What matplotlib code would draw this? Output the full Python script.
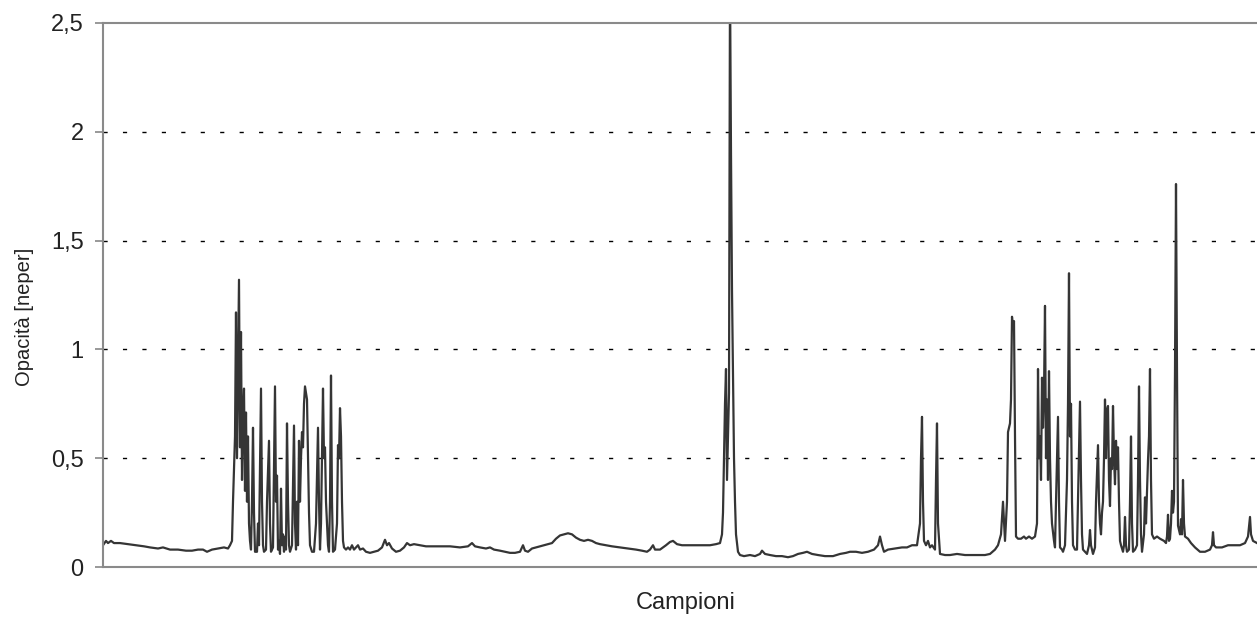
import numpy as np
import matplotlib.pyplot as plt
from matplotlib.ticker import FixedLocator

# =========================
# DATA
# =========================
# sample number / opacity [neper], split by stretch of the record

# flat start
camp_inizio = [103, 106, 108, 111, 114, 120, 128, 136, 144, 150, 158, 163, 170, 178, 186,
               192, 198, 203, 207, 212, 218, 224, 228, 230]
opac_inizio = [0.10, 0.12, 0.11, 0.12, 0.11, 0.11, 0.105, 0.10, 0.095, 0.09, 0.085, 0.09,
               0.08, 0.08, 0.075, 0.075, 0.08, 0.08, 0.07, 0.08, 0.085, 0.09, 0.085, 0.10]

# first burst
camp_burst1 = [232, 233, 234, 235, 236, 237, 238, 239, 240, 241, 242, 243, 244, 245, 246,
               247, 248, 249, 250, 251, 252, 253, 254, 255, 257, 258, 259, 261, 262, 263,
               264, 266, 267, 269, 270, 271, 273, 275, 276, 277, 278, 279, 280, 281, 282,
               283, 284, 285, 286, 287, 288, 289, 290, 292, 294, 295, 296, 297, 298, 299,
               300, 301, 302, 303, 304, 305, 306, 307, 308, 309, 310, 312, 314, 316, 318,
               319, 320, 321, 323, 324, 325, 326, 327, 328, 329, 330, 331, 332, 333, 335,
               337, 338, 339, 340, 341, 342, 343, 344]
opac_burst1 = [0.12, 0.3, 0.45, 0.6, 1.17, 0.5, 0.9, 1.32, 0.55, 1.08, 0.4, 0.7, 0.82, 0.35,
               0.71, 0.3, 0.6, 0.2, 0.12, 0.08, 0.3, 0.64, 0.25, 0.07, 0.07, 0.2, 0.1, 0.82,
               0.3, 0.1, 0.07, 0.08, 0.3, 0.58, 0.2, 0.07, 0.09, 0.83, 0.3, 0.42, 0.08, 0.12,
               0.06, 0.36, 0.1, 0.15, 0.07, 0.14, 0.08, 0.66, 0.3, 0.1, 0.07, 0.1, 0.65, 0.2,
               0.08, 0.3, 0.1, 0.58, 0.3, 0.5, 0.62, 0.55, 0.75, 0.83, 0.8, 0.77, 0.5, 0.25,
               0.1, 0.07, 0.07, 0.2, 0.64, 0.3, 0.08, 0.2, 0.82, 0.5, 0.55, 0.3, 0.2, 0.1,
               0.07, 0.3, 0.88, 0.3, 0.07, 0.08, 0.2, 0.56, 0.5, 0.73, 0.6, 0.3, 0.12, 0.09]

# quiet middle stretch
camp_medio = [346, 348, 350, 352, 354, 356, 358, 360, 363, 366, 370, 374, 378, 382, 385,
              387, 389, 392, 396, 400, 404, 407, 410, 414, 420, 426, 432, 440, 450, 460,
              468, 472, 475, 480, 486, 490, 494, 500, 505, 510, 515, 520, 523, 525, 528,
              532, 536, 540, 544, 548, 552, 556, 560, 564, 568, 572, 576, 580, 584, 588,
              592, 596, 600, 606, 612, 620, 628, 636, 642, 647, 650, 653, 655, 660, 666,
              670, 673, 677, 682, 690, 700, 710, 716, 720]
opac_medio = [0.08, 0.09, 0.08, 0.1, 0.08, 0.09, 0.1, 0.08, 0.085, 0.07, 0.065, 0.07, 0.075,
              0.09, 0.125, 0.1, 0.11, 0.085, 0.07, 0.075, 0.09, 0.11, 0.1, 0.105, 0.1, 0.095,
              0.095, 0.095, 0.095, 0.09, 0.095, 0.11, 0.095, 0.09, 0.085, 0.09, 0.08, 0.075,
              0.07, 0.065, 0.065, 0.07, 0.1, 0.075, 0.07, 0.085, 0.09, 0.095, 0.10, 0.105,
              0.11, 0.13, 0.145, 0.15, 0.155, 0.15, 0.135, 0.125, 0.12, 0.125, 0.12, 0.11,
              0.105, 0.1, 0.095, 0.09, 0.085, 0.08, 0.075, 0.07, 0.08, 0.1, 0.08, 0.08, 0.1,
              0.115, 0.12, 0.105, 0.1, 0.1, 0.1, 0.1, 0.105, 0.11]

# central spike (goes off scale)
camp_picco = [722, 723, 724, 725, 726, 727, 728, 729, 730, 731, 732, 733, 734, 735, 736,
              738, 740]
opac_picco = [0.15, 0.25, 0.5, 0.75, 0.91, 0.4, 0.6, 0.8, 2.7, 1.9, 1.27, 0.9, 0.5, 0.3,
              0.15, 0.07, 0.055]

# low stretch with two isolated peaks
camp_basso = [744, 750, 755, 760, 762, 765, 770, 776, 782, 788, 793, 798, 803, 807, 812,
              818, 825, 833, 840, 846, 850, 856, 862, 868, 874, 878, 880, 882, 884, 888,
              895, 902, 907, 912, 917, 920, 921, 922, 923, 924, 926, 928, 930, 932, 935,
              936, 937, 938, 940, 945, 950, 957, 965, 975, 985, 990, 995, 998, 1001, 1003,
              1005, 1007, 1008, 1010, 1011, 1012, 1013, 1014, 1015, 1016, 1018, 1021, 1024,
              1026, 1029, 1032, 1035, 1037]
opac_basso = [0.05, 0.055, 0.05, 0.06, 0.075, 0.06, 0.055, 0.05, 0.05, 0.045, 0.05, 0.06,
              0.065, 0.07, 0.06, 0.055, 0.05, 0.05, 0.06, 0.065, 0.07, 0.07, 0.065, 0.07,
              0.08, 0.1, 0.14, 0.1, 0.07, 0.08, 0.085, 0.09, 0.09, 0.1, 0.1, 0.2, 0.5, 0.69,
              0.3, 0.12, 0.1, 0.12, 0.09, 0.1, 0.08, 0.4, 0.66, 0.2, 0.06, 0.055, 0.055,
              0.06, 0.055, 0.055, 0.055, 0.06, 0.08, 0.1, 0.15, 0.3, 0.12, 0.3, 0.62, 0.66,
              0.77, 1.15, 1.1, 1.13, 0.6, 0.14, 0.13, 0.13, 0.14, 0.13, 0.14, 0.13, 0.14, 0.2]

# last burst
camp_burst2 = [1038, 1039, 1040, 1041, 1042, 1043, 1044, 1045, 1046, 1047, 1048, 1049, 1050,
               1051, 1052, 1054, 1055, 1056, 1058, 1059, 1060, 1062, 1063, 1065, 1067, 1068,
               1069, 1070, 1071, 1072, 1073, 1075, 1077, 1078, 1080, 1081, 1082, 1083, 1085,
               1087, 1089, 1090, 1091, 1093, 1095, 1096, 1098, 1099, 1100, 1101, 1102, 1103,
               1104, 1105, 1106, 1107, 1108, 1109, 1110, 1111, 1112, 1113, 1114, 1115, 1116,
               1117, 1118, 1119, 1120, 1121, 1123, 1124, 1125, 1126, 1127, 1129, 1130, 1131,
               1132, 1133, 1135, 1137, 1138, 1139, 1140, 1141, 1142, 1144, 1145, 1146, 1147,
               1148, 1149, 1150, 1151, 1152]
opac_burst2 = [0.91, 0.5, 0.6, 0.4, 0.87, 0.64, 0.8, 1.2, 0.5, 0.77, 0.4, 0.9, 0.5, 0.3, 0.2,
               0.12, 0.09, 0.3, 0.69, 0.3, 0.09, 0.08, 0.07, 0.1, 0.4, 0.75, 1.35, 0.6, 0.75,
               0.3, 0.1, 0.08, 0.08, 0.3, 0.76, 0.4, 0.15, 0.08, 0.07, 0.06, 0.1, 0.17, 0.1,
               0.06, 0.09, 0.3, 0.56, 0.3, 0.2, 0.15, 0.25, 0.3, 0.5, 0.77, 0.5, 0.72, 0.74,
               0.4, 0.28, 0.5, 0.45, 0.74, 0.5, 0.38, 0.58, 0.45, 0.55, 0.3, 0.12, 0.1, 0.07,
               0.1, 0.23, 0.1, 0.07, 0.08, 0.3, 0.6, 0.2, 0.07, 0.08, 0.1, 0.4, 0.83, 0.4,
               0.15, 0.07, 0.15, 0.32, 0.2, 0.35, 0.49, 0.6, 0.91, 0.4, 0.15]

# tail with the last high peak
camp_coda = [1154, 1157, 1160, 1164, 1166, 1167, 1168, 1169, 1170, 1171, 1172, 1173, 1174,
             1175, 1176, 1177, 1178, 1180, 1181, 1182, 1183, 1184, 1185, 1188, 1191, 1195,
             1200, 1205, 1210, 1212, 1213, 1214, 1216, 1222, 1228, 1234, 1240, 1245, 1248,
             1250, 1251, 1253, 1257]
opac_coda = [0.13, 0.14, 0.13, 0.12, 0.11, 0.14, 0.24, 0.12, 0.13, 0.2, 0.35, 0.25, 0.3,
             0.9, 1.76, 0.9, 0.19, 0.15, 0.22, 0.15, 0.4, 0.2, 0.14, 0.13, 0.11, 0.09, 0.07,
             0.07, 0.08, 0.1, 0.16, 0.1, 0.09, 0.09, 0.1, 0.1, 0.1, 0.11, 0.14, 0.23, 0.15,
             0.12, 0.11]

y_ticks = [0, 0.5, 1, 1.5, 2, 2.5]
y_tick_labels = ["0", "0,5", "1", "1,5", "2", "2,5"]

campioni = np.concatenate([camp_inizio, camp_burst1, camp_medio, camp_picco,
                           camp_basso, camp_burst2, camp_coda])
opacita = np.concatenate([opac_inizio, opac_burst1, opac_medio, opac_picco,
                          opac_basso, opac_burst2, opac_coda])

# =========================
# PLOT
# =========================
plt.rcParams['font.family'] = ['Liberation Sans', 'DejaVu Sans']

fig = plt.figure(figsize=(12.57, 6.23), dpi=100)
ax = fig.add_axes([103 / 1257, 56 / 623, 1154 / 1257, 544 / 623])

ax.plot(campioni, opacita, color="#353535", linewidth=1.6)

ax.set_xlim(campioni[0], campioni[-1])
ax.set_ylim(0, 2.5)

# dotted horizontal grid
for yv in y_ticks[1:-1]:
    ax.axhline(yv, color="black", linewidth=1.0, linestyle=(0, (3, 11)), zorder=0)

ax.yaxis.set_major_locator(FixedLocator(y_ticks))
ax.set_yticklabels(y_tick_labels, fontsize=17, color="#222222")
ax.tick_params(axis="y", direction="out", length=6, width=1.2, color="#888888", pad=8)
ax.set_xticks([])

for side in ["left", "top", "bottom"]:
    ax.spines[side].set_color("#8a8a8a")
    ax.spines[side].set_linewidth(1.5)
ax.spines["right"].set_visible(False)

ax.set_ylabel("Opacità [neper]", fontsize=14.5, color="#222222", labelpad=12)
ax.set_xlabel("Campioni", fontsize=17, color="#222222", labelpad=18)
ax.yaxis.label.set_y(0.46)
ax.xaxis.label.set_x(0.505)

fig.savefig("out.png", dpi=100)
